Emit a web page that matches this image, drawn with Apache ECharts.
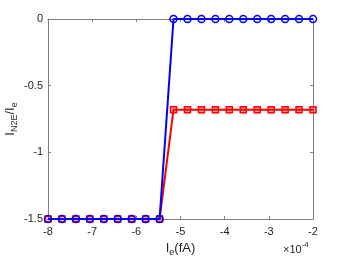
<!DOCTYPE html>
<html><head><meta charset="utf-8">
<script src="https://cdn.jsdelivr.net/npm/echarts@6/dist/echarts.min.js"></script>
<style>html,body{margin:0;padding:0;background:#fff}#c{width:346px;height:260px}</style>
</head><body><div id="c"></div>
<script>
// x values in units of 1e-4 fA
var xValues = [-8, -7.6842, -7.3684, -7.0526, -6.7368, -6.4211, -6.1053, -5.7895, -5.4737, -5.1579,
  -4.8421, -4.5263, -4.2105, -3.8947, -3.5789, -3.2632, -2.9474, -2.6316, -2.3158, -2];
var blueValues = [-1.5, -1.5, -1.5, -1.5, -1.5, -1.5, -1.5, -1.5, -1.5, 0,
  0, 0, 0, 0, 0, 0, 0, 0, 0, 0];
var redValues = [-1.5, -1.5, -1.5, -1.5, -1.5, -1.5, -1.5, -1.5, -1.5, -0.68,
  -0.68, -0.68, -0.68, -0.68, -0.68, -0.68, -0.68, -0.68, -0.68, -0.68];
var xTicks = [-8, -7, -6, -5, -4, -3, -2];
var yTicks = [0, -0.5, -1, -1.5];

function pairs(xs, ys) { return xs.map(function (x, i) { return [x, ys[i]]; }); }

var FONT = 'Liberation Sans, Arial, sans-serif';
var axisCol = '#7f7f7f';
var txtCol = '#262626';

var chart = echarts.init(document.getElementById('c'), null, { renderer: 'canvas' });
var baseX = {
  type: 'value', min: -8, max: -2, interval: 1,
  axisLine: { show: true, onZero: false, lineStyle: { color: axisCol, width: 1 } },
  axisTick: { show: true, inside: true, length: 3, lineStyle: { color: axisCol } },
  splitLine: { show: false }
};
var baseY = {
  type: 'value', min: -1.5, max: 0, interval: 0.5,
  axisLine: { show: true, onZero: false, lineStyle: { color: axisCol, width: 1 } },
  axisTick: { show: true, inside: true, length: 3, lineStyle: { color: axisCol } },
  splitLine: { show: false }
};
chart.setOption({
  animation: false,
  backgroundColor: '#fff',
  grid: { left: 48, right: 33, top: 19, bottom: 41, containLabel: false, outerBoundsMode: 'none' },
  xAxis: [
    Object.assign({}, baseX, {
      position: 'bottom',
      axisLabel: { show: true, color: txtCol, fontFamily: FONT, fontSize: 11, margin: 7,
        formatter: function (v) { return xTicks.indexOf(v) >= 0 ? String(v) : ''; } },
      name: '{b|I}{s|e}{b|(fA)}', nameLocation: 'middle', nameGap: 22, nameMoveOverlap: false,
      nameTextStyle: { rich: {
        b: { fontFamily: FONT, fontSize: 13, color: txtCol, lineHeight: 15 },
        s: { fontFamily: FONT, fontSize: 9, color: txtCol, padding: [9, 0, 0, 0], lineHeight: 15 }
      } }
    }),
    Object.assign({}, baseX, { position: 'top', axisLabel: { show: false } })
  ],
  yAxis: [
    Object.assign({}, baseY, {
      position: 'left',
      axisLabel: { show: true, color: txtCol, fontFamily: FONT, fontSize: 11, margin: 5,
        formatter: function (v) { return yTicks.indexOf(v) >= 0 ? String(v) : ''; } },
      name: '{b|I}{s|N2E}{b|/I}{s|e}', nameLocation: 'middle', nameGap: 30, nameMoveOverlap: false,
      nameTextStyle: { rich: {
        b: { fontFamily: FONT, fontSize: 13, color: txtCol, lineHeight: 15 },
        s: { fontFamily: FONT, fontSize: 9, color: txtCol, padding: [9, 0, 0, 0], lineHeight: 15 }
      } }
    }),
    Object.assign({}, baseY, { position: 'right', axisLabel: { show: false } })
  ],
  series: [
    {
      type: 'line', data: pairs(xValues, redValues), xAxisIndex: 0, yAxisIndex: 0,
      symbol: 'rect', symbolSize: 6, showSymbol: true,
      lineStyle: { color: '#ff0000', width: 2 },
      itemStyle: { color: 'rgba(255,0,0,0.35)', borderColor: '#ff0000', borderWidth: 1.5 },
      z: 2
    },
    {
      type: 'line', data: pairs(xValues, blueValues), xAxisIndex: 0, yAxisIndex: 0,
      symbol: 'circle', symbolSize: 7, showSymbol: true,
      lineStyle: { color: '#0000ff', width: 2 },
      itemStyle: { color: 'rgba(0,0,0,0)', borderColor: '#0000ff', borderWidth: 1.5 },
      z: 3
    }
  ],
  graphic: [
    { type: 'text', left: 283, top: 241,
      style: { text: '{m|×10}{p|-4}', rich: {
        m: { fontFamily: FONT, fontSize: 11, fill: txtCol, padding: [6, 0, 0, 0] },
        p: { fontFamily: FONT, fontSize: 8, fill: txtCol, padding: [0, 0, 4, 0] }
      } } }
  ]
});
</script></body></html>
